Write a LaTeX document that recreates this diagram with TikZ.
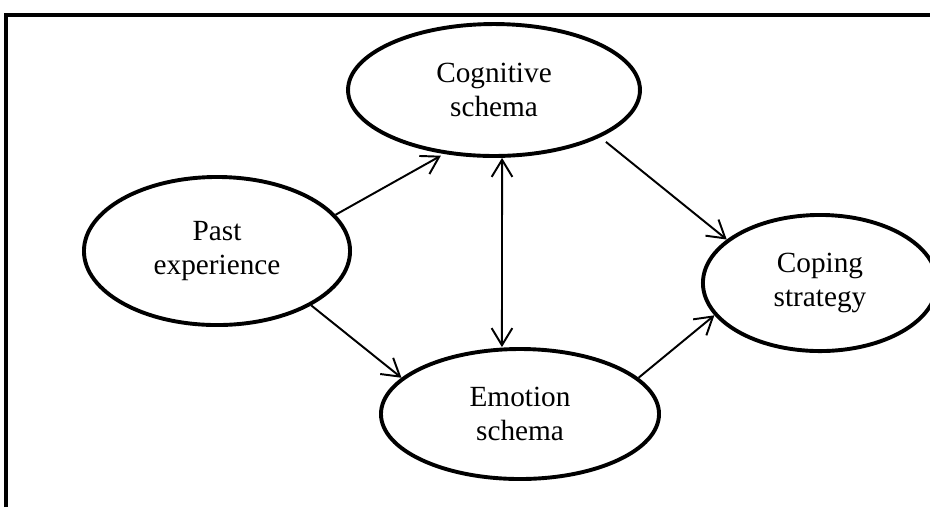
\documentclass[tikz,border=0pt]{standalone}
\usepackage{fontspec}
\setmainfont{Liberation Serif}
\usetikzlibrary{arrows.meta,shapes.geometric}

\begin{document}
\begin{tikzpicture}[
  x=0.41pt,y=-0.41pt,
  bubble/.style={draw,ellipse,line width=1.6pt,inner sep=0pt,align=center,font=\fontsize{12}{13.6}\selectfont},
  link/.style={-{Straight Barb[length=7pt,width=8.5pt]},line width=0.8pt}
]
  \useasboundingbox (0,0) rectangle (930,507);
  % open frame, top and left only
  \draw[line width=1.6pt] (6,507) -- (6,15) -- (930,15);

  \node[bubble,minimum width=119.7pt,minimum height=54.1pt] (cog) at (494,90) {Cognitive\\schema};
  \node[bubble,minimum width=109.1pt,minimum height=60.7pt] (past) at (217,251) {Past\\experience};
  \node[bubble,minimum width=114pt,minimum height=53.3pt] (emo) at (520,414) {Emotion\\schema};
  \node[bubble,minimum width=96pt,minimum height=55.8pt] (cope) at (820,283) {Coping\\strategy};

  \draw[link,shorten >=1.5pt] (past.17) -- (cog.-128);
  \draw[link] (past.-30) -- (emo.163);
  \draw[link,{Straight Barb[length=7pt,width=8.5pt]}-{Straight Barb[length=7pt,width=8.5pt]}] ([xshift=3.3pt]cog.south) -- ([xshift=-7.4pt]emo.north);
  \draw[link,shorten <=3pt] (cog.-24) -- (cope.155);
  \draw[link] (emo.17) -- (cope.197);
\end{tikzpicture}
\end{document}
